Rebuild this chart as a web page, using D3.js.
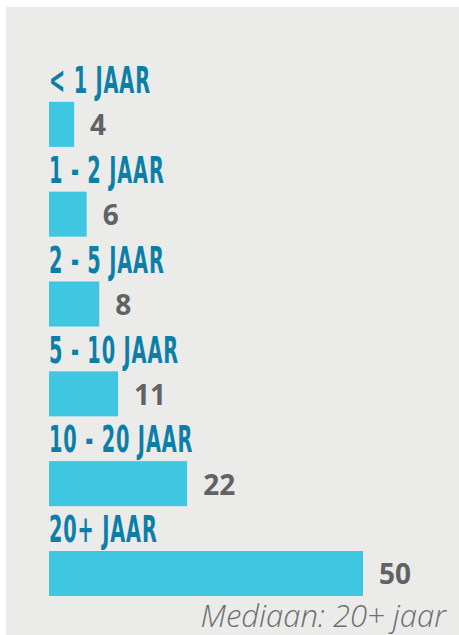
<!DOCTYPE html>
<html>
<head>
<meta charset="utf-8">
<script src="https://cdn.jsdelivr.net/npm/d3@7"></script>
<style>
  body { margin: 0; background: #fff; }
  svg { display: block; }
</style>
</head>
<body>
<div id="chart"></div>
<script>
// data
var categories = ["< 1 JAAR", "1 - 2 JAAR", "2 - 5 JAAR", "5 - 10 JAAR", "10 - 20 JAAR", "20+ JAAR"];
var values = [4, 6, 8, 11, 22, 50];
var footnote = "Mediaan: 20+ jaar";

var svgWidth = 459;
var svgHeight = 635;

var svg = d3.select("#chart")
  .append("svg")
  .attr("width", svgWidth)
  .attr("height", svgHeight);

// grey panel
svg.append("rect")
  .attr("x", 6)
  .attr("y", 7)
  .attr("width", svgWidth - 6)
  .attr("height", svgHeight - 7)
  .attr("fill", "#ebebe9");

var left = 49;

var xScale = d3.scaleLinear()
  .domain([0, 50])
  .range([0, 314]);

// each row = label + bar, step of ~90px
var yScale = d3.scaleBand()
  .domain(categories)
  .range([57, 596])
  .paddingInner(0)
  .paddingOuter(0);

var barH = 45;

var rows = svg.selectAll(".row")
  .data(categories)
  .enter()
  .append("g")
  .attr("class", "row")
  .attr("transform", d => `translate(${left}, ${yScale(d)})`);

// category labels (squeezed to get the condensed look)
rows.append("text")
  .attr("transform", "translate(0, 36) scale(0.58, 1)")
  .attr("fill", "#0c7fa9")
  .style("font-family", "'Liberation Sans Narrow', 'DejaVu Sans Condensed', sans-serif")
  .style("font-weight", "bold")
  .style("font-size", "37px")
  .style("letter-spacing", "1.5px")
  .text(d => d);

// bars
rows.append("rect")
  .attr("x", 0)
  .attr("y", yScale.bandwidth() - barH)
  .attr("width", (d, i) => xScale(values[i]))
  .attr("height", barH)
  .attr("fill", "#3fc6e0");

// value labels
rows.append("text")
  .attr("x", (d, i) => xScale(values[i]) + 16)
  .attr("y", yScale.bandwidth() - barH / 2 + 11)
  .attr("fill", "#616264")
  .style("font-family", "'Open Sans', sans-serif")
  .style("font-weight", "bold")
  .style("font-size", "28px")
  .text((d, i) => values[i]);

// footnote
svg.append("text")
  .attr("x", 446)
  .attr("y", 627)
  .attr("text-anchor", "end")
  .attr("fill", "#6d6e70")
  .style("font-family", "'Open Sans', sans-serif")
  .style("font-style", "italic")
  .style("font-weight", "300")
  .style("font-size", "31px")
  .text(footnote);
</script>
</body>
</html>
